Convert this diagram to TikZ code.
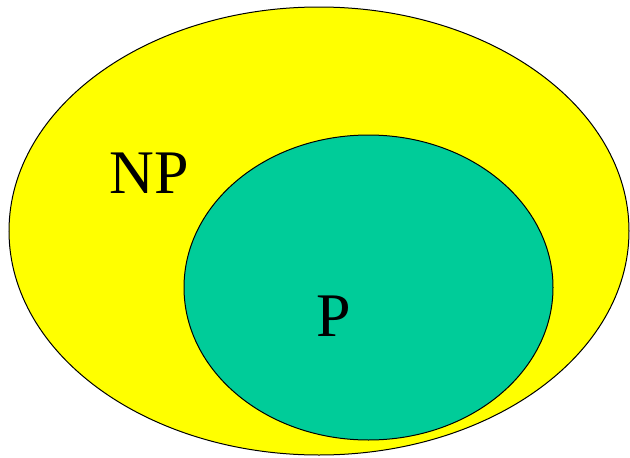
\documentclass[tikz,border=0pt]{standalone}
\usepackage{fontspec}
\setmainfont{Liberation Serif}
\definecolor{cyellow}{RGB}{255,255,0}
\definecolor{cgreen}{RGB}{0,204,153}
\tikzset{classpic/.style={x=1pt,y=-1pt}}
\tikzset{npset/.style={fill=cyellow,draw=black,line width=1pt},
         pset/.style={fill=cgreen,draw=black,line width=1pt},
         setlabel/.style={font=\fontsize{62}{70}\selectfont}}

\begin{document}
\begin{tikzpicture}[classpic]
    \useasboundingbox (0,0) rectangle (630,458);
    \draw[npset] (319,231) ellipse [x radius=310, y radius=224]; % NP
    \draw[pset]  (368.5,287.5) ellipse [x radius=184.5, y radius=152.5]; % P inside
    \node[setlabel] (np) at (149,173) {NP};
    \node[setlabel] (p)  at (334,316) {P};
  \end{tikzpicture}
\end{document}
